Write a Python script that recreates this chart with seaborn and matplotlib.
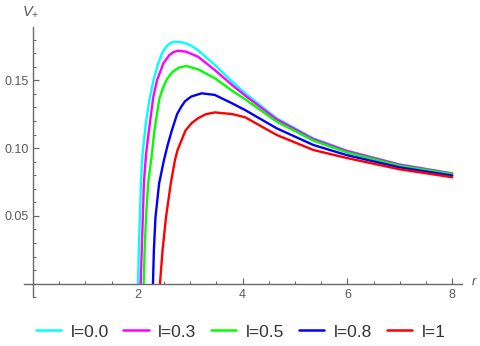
import numpy as np
import pandas as pd
import matplotlib
matplotlib.use("Agg")
import matplotlib.pyplot as plt
import seaborn as sns

# ---- data ----
labels = ["l=0.0", "l=0.3", "l=0.5", "l=0.8", "l=1"]
colors = ["#00FFFF", "#FF00FF", "#00FF00", "#0000FF", "#FF0000"]

r_l00 = [2.005, 2.02, 2.04, 2.06, 2.09, 2.15, 2.22, 2.30, 2.39, 2.47, 2.55, 2.63, 2.72, 2.85, 3.00, 3.15, 3.47, 3.80, 4.05, 4.65, 5.35, 5.99, 6.99, 8.00]
V_l00 = [0.000, 0.025, 0.049, 0.074, 0.095, 0.117, 0.135, 0.150, 0.1625, 0.1705, 0.1752, 0.1776, 0.1785, 0.1779, 0.1760, 0.1722, 0.1613, 0.149, 0.1404, 0.122, 0.1072, 0.0982, 0.0880, 0.0814]

r_l03 = [2.055, 2.077, 2.097, 2.117, 2.157, 2.213, 2.298, 2.368, 2.489, 2.60, 2.68, 2.77, 2.92, 3.15, 3.47, 3.80, 4.05, 4.65, 5.35, 5.99, 6.99, 8.00]
V_l03 = [0.000, 0.025, 0.049, 0.074, 0.095, 0.113, 0.138, 0.150, 0.1625, 0.1685, 0.1707, 0.1718, 0.1711, 0.1674, 0.1576, 0.1465, 0.1387, 0.1212, 0.1066, 0.0978, 0.0878, 0.0812]

r_l05 = [2.112, 2.132, 2.157, 2.198, 2.268, 2.318, 2.41, 2.48, 2.56, 2.66, 2.78, 2.93, 3.15, 3.47, 3.80, 4.05, 4.65, 5.35, 5.99, 6.99, 8.00]
V_l05 = [0.000, 0.025, 0.049, 0.074, 0.095, 0.113, 0.136, 0.1445, 0.151, 0.156, 0.1593, 0.1605, 0.1581, 0.1515, 0.1423, 0.136, 0.1195, 0.1055, 0.0968, 0.087, 0.0807]

r_l08 = [2.29, 2.308, 2.338, 2.408, 2.499, 2.569, 2.65, 2.75, 2.83, 2.90, 3.02, 3.22, 3.47, 3.80, 4.05, 4.65, 5.35, 5.99, 6.99, 8.00]
V_l08 = [0.000, 0.025, 0.049, 0.074, 0.091, 0.102, 0.113, 0.125, 0.1305, 0.1345, 0.138, 0.1404, 0.1392, 0.133, 0.128, 0.1146, 0.1023, 0.0948, 0.0858, 0.0797]

r_l10 = [2.424, 2.474, 2.539, 2.630, 2.710, 2.760, 2.911, 3.03, 3.15, 3.30, 3.47, 3.80, 4.05, 4.65, 5.35, 5.99, 6.99, 8.00]
V_l10 = [0.000, 0.025, 0.049, 0.074, 0.0912, 0.0986, 0.113, 0.1185, 0.122, 0.125, 0.1263, 0.1251, 0.1227, 0.1097, 0.0986, 0.0927, 0.0844, 0.0785]

x_major = [2, 4, 6, 8]
y_major = [0.05, 0.10, 0.15]
y_major_labels = ["0.05", "0.10", "0.15"]

series = [(r_l00, V_l00), (r_l03, V_l03), (r_l05, V_l05), (r_l08, V_l08), (r_l10, V_l10)]
frames = []
for lab, (rr, vv) in zip(labels, series):
    frames.append(pd.DataFrame({"r": rr, "V": vv, "l": lab}))
df = pd.concat(frames, ignore_index=True)

sns.set_style("white")
plt.rcParams["font.family"] = ["Liberation Sans", "DejaVu Sans"]
plt.rcParams["mathtext.fontset"] = "custom"
plt.rcParams["mathtext.it"] = "Liberation Sans:italic"
plt.rcParams["mathtext.rm"] = "Liberation Sans"

W, H = 481, 346
fig = plt.figure(figsize=(W / 100, H / 100), dpi=100)
left, right, top, bottom = 24, 461.7, 26.7, 297.3
ax = fig.add_axes([left / W, 1 - bottom / H, (right - left) / W, (bottom - top) / H])

sns.lineplot(data=df, x="r", y="V", hue="l", hue_order=labels,
             palette=dict(zip(labels, colors)), linewidth=1.7, sort=False,
             estimator=None, ax=ax)
for ln in ax.get_lines():
    ln.set_solid_joinstyle("round")

ax.set_xlim(-0.17, 8.18)
ax.set_ylim(-0.0100, 0.1895)

axis_col = "#6a6a6a"
for s in ["top", "right"]:
    ax.spines[s].set_visible(False)
ax.spines["left"].set_position(("data", 0))
ax.spines["bottom"].set_position(("data", 0))
for s in ["left", "bottom"]:
    ax.spines[s].set_color(axis_col)
    ax.spines[s].set_linewidth(1.0)

ax.set_xticks(x_major)
ax.set_xticklabels([str(v) for v in x_major])
ax.set_xticks(np.arange(0.5, 8.01, 0.5), minor=True)
ax.set_yticks(y_major)
ax.set_yticklabels(y_major_labels)
ax.set_yticks(np.arange(-0.01, 0.185, 0.01), minor=True)
ax.tick_params(which="both", bottom=True, left=True, top=False, right=False)
ax.tick_params(which="major", direction="in", length=4.5, width=0.9, color=axis_col,
               labelsize=9, labelcolor="#595959", pad=3)
ax.tick_params(which="minor", direction="in", length=2.5, width=0.8, color=axis_col)
ax.tick_params(axis="x", which="major", pad=4)
ax.set_xlabel("")
ax.set_ylabel("")

fig.text(474 / W, 1 - 282 / H, "r", style="italic", color="#595959", fontsize=9.5,
         ha="center", va="center")
fig.text(31 / W, 1 - 12 / H, r"$V_{+}$", color="#595959", fontsize=10.5,
         ha="center", va="center")

sns.move_legend(ax, "center", bbox_to_anchor=(0.5, 1 - 332 / H),
                bbox_transform=fig.transFigure, ncol=5, frameon=False, title=None,
                fontsize=12.5, handlelength=1.45, handletextpad=0.55,
                columnspacing=0.85, borderaxespad=0)
leg = ax.get_legend()
for t in leg.get_texts():
    t.set_color("#333333")
for h in leg.legend_handles:
    h.set_linewidth(1.8)

fig.savefig("out.png", dpi=100)
